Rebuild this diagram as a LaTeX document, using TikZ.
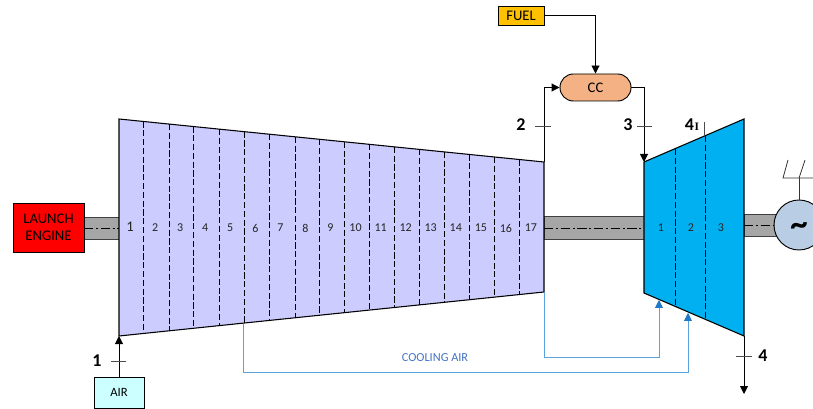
\documentclass[tikz,border=0pt]{standalone}
\usepackage{fontspec}
\setmainfont{Carlito}
\usetikzlibrary{arrows.meta, positioning, calc}

\definecolor{compfill}{HTML}{CCCCFF}
\definecolor{turbfill}{HTML}{00B0F0}
\definecolor{shaftfill}{HTML}{A6A6A6}
\definecolor{genfill}{HTML}{B9CDE5}
\definecolor{airfill}{HTML}{CCFFFF}
\definecolor{fuelfill}{HTML}{FFC000}
\definecolor{ccfill}{HTML}{F4B183}
\definecolor{coolline}{HTML}{5BA3DC}
\definecolor{cooltip}{HTML}{1F78C8}
\definecolor{cooltext}{HTML}{4472C4}

\tikzset{
    flow/.style={draw=black, line width=0.7pt, -{Triangle[length=6pt,width=6pt]}},
    cool/.style={draw=coolline, line width=0.65pt, -{Triangle[length=6pt,width=6pt,color=cooltip]}},
    stagecut/.style={draw=black, line width=0.7pt, dash pattern=on 4.6pt off 2pt},
    mark line/.style={draw=black!70, line width=0.6pt},
    stationlabel/.style={font=\bfseries\fontsize{13.5}{14}\selectfont, text=black},
    stagelabel/.style={font=\fontsize{9}{10}\selectfont, text=black!85},
    shaftbar/.style={draw=black!75, fill=shaftfill, line width=0.7pt},
    shaftaxis/.style={draw=black, line width=0.6pt, dash pattern=on 7pt off 2pt on 1.5pt off 2pt},
    box/.style={draw=black, line width=0.7pt, inner sep=0pt, align=center},
}

\begin{document}
\begin{tikzpicture}[x=0.75pt, y=-0.75pt]
    \clip (0,0) rectangle (813,409);

    % shafts
    \draw[shaftbar] (84,217) rectangle (119,239);
    \draw[shaftbar] (544,216) rectangle (644,239);
    \draw[shaftbar] (744,214) rectangle (780,236);
    \draw[shaftaxis] (84,228) -- (119,228);
    \draw[shaftaxis] (544,228) -- (644,228);
    \draw[shaftaxis] (744,225) -- (776,225);

    % compressor
    \coordinate (comptl) at (119,119);
    \coordinate (comptr) at (544,162);
    \coordinate (compbr) at (544,292);
    \coordinate (compbl) at (119,336);
    \draw[fill=compfill, line width=0.8pt] (comptl) -- (comptr) -- (compbr) -- (compbl) -- cycle;
    \foreach \x in {143,169,193,219,244,269,295,319,344,369,394,419,444,469,494,519}
        \draw[stagecut] ({\x},{119+(\x-119)/425*43}) -- ({\x},{336-(\x-119)/425*44});
    \foreach \n [count=\i] in {2,...,17}
        \node[stagelabel] at ({130+25.06*\i},228) {\n};
    \node[stagelabel, font=\fontsize{11}{12}\selectfont] at (130,227) {1};

    % turbine
    \coordinate (turbtl) at (644,162);
    \coordinate (turbtr) at (744,119);
    \coordinate (turbbr) at (744,336);
    \coordinate (turbbl) at (644,293);
    \draw[fill=turbfill, line width=0.8pt] (turbtl) -- (turbtr) -- (turbbr) -- (turbbl) -- cycle;
    \draw[stagecut] (675,149) -- (675,306);
    \draw[stagecut] (705,136) -- (705,319);
    \node[stagelabel] at (661,228) {1};
    \node[stagelabel] at (691,228) {2};
    \node[stagelabel] at (721,228) {3};

    % boxes
    \node[box, fill=red, minimum width=53.25pt, minimum height=36.75pt, font=\fontsize{11}{12.6}\selectfont] (engine) at (48.5,227.5) {LAUNCH\\ENGINE};
    \node[box, fill=airfill, minimum width=37.5pt, minimum height=23.25pt, font=\fontsize{9.5}{10}\selectfont] (air) at (119,392.5) {AIR};
    \node[box, fill=fuelfill, minimum width=34.5pt, minimum height=14.25pt, font=\fontsize{11}{12}\selectfont] (fuel) at (521,15.5) {FUEL};
    \node[box, fill=ccfill, rounded corners=10pt, minimum width=53.25pt, minimum height=20.25pt, font=\fontsize{11}{12}\selectfont] (cc) at (595.5,87.5) {CC};
    \node[draw=black, line width=0.7pt, fill=genfill, circle, minimum size=37.5pt, inner sep=0pt, font=\bfseries\fontsize{26}{27}\selectfont, text height=16pt, text depth=0pt] (gen) at (799,225) {\textasciitilde};

    % gas path
    \draw[flow] (air.north) -- (compbl);
    \draw[flow] (fuel.east) -| (cc.north);
    \draw[flow] (comptr) |- (cc.west);
    \draw[flow] (cc.east) -| (turbtl);
    \coordinate (exhaust) at (744,394);
    \draw[flow] (turbbr) -- (exhaust);

    % cooling air
    \coordinate (bleedlp) at (243,324);
    \coordinate (coolfirst) at (659,300);
    \coordinate (coolsecond) at (688,313);
    \draw[cool] (compbr) |- (659,357) -- (coolfirst);
    \draw[cool] (bleedlp) |- (688,372) -- (coolsecond);
    \node[text=cooltext, font=\fontsize{9.2}{10}\selectfont] (coolair) at (435,358) {COOLING AIR};

    % stations
    \draw[mark line] (111,361) -- (126,361);
    \node[stationlabel] (st1) at (97,361) {1};
    \draw[mark line] (535,126) -- (551,126);
    \node[stationlabel] (st2) at (521,125) {2};
    \draw[mark line] (637,126) -- (652,126);
    \node[stationlabel] (st3) at (628,125) {3};
    \draw[mark line] (704,122) -- (704,136);
    \node[stationlabel, inner sep=0pt] (st4i) at (692,125) {4\hspace{0.5pt}{\fontspec{Liberation Serif}\fontsize{8.5}{9}\selectfont I}};
    \draw[mark line] (736,356) -- (752,356);
    \node[stationlabel] (st4) at (763,356) {4};

    % grid connection
    \coordinate (gridbus) at (799,178);
    \draw[line width=0.6pt, draw=black!80] (gen.north) -- (gridbus);
    \draw[line width=0.6pt, draw=black!80] (788,160) -- (783,178) -- (813,178);
    \draw[line width=0.6pt, draw=black!80] (805,160) -- (gridbus);
\end{tikzpicture}
\end{document}
